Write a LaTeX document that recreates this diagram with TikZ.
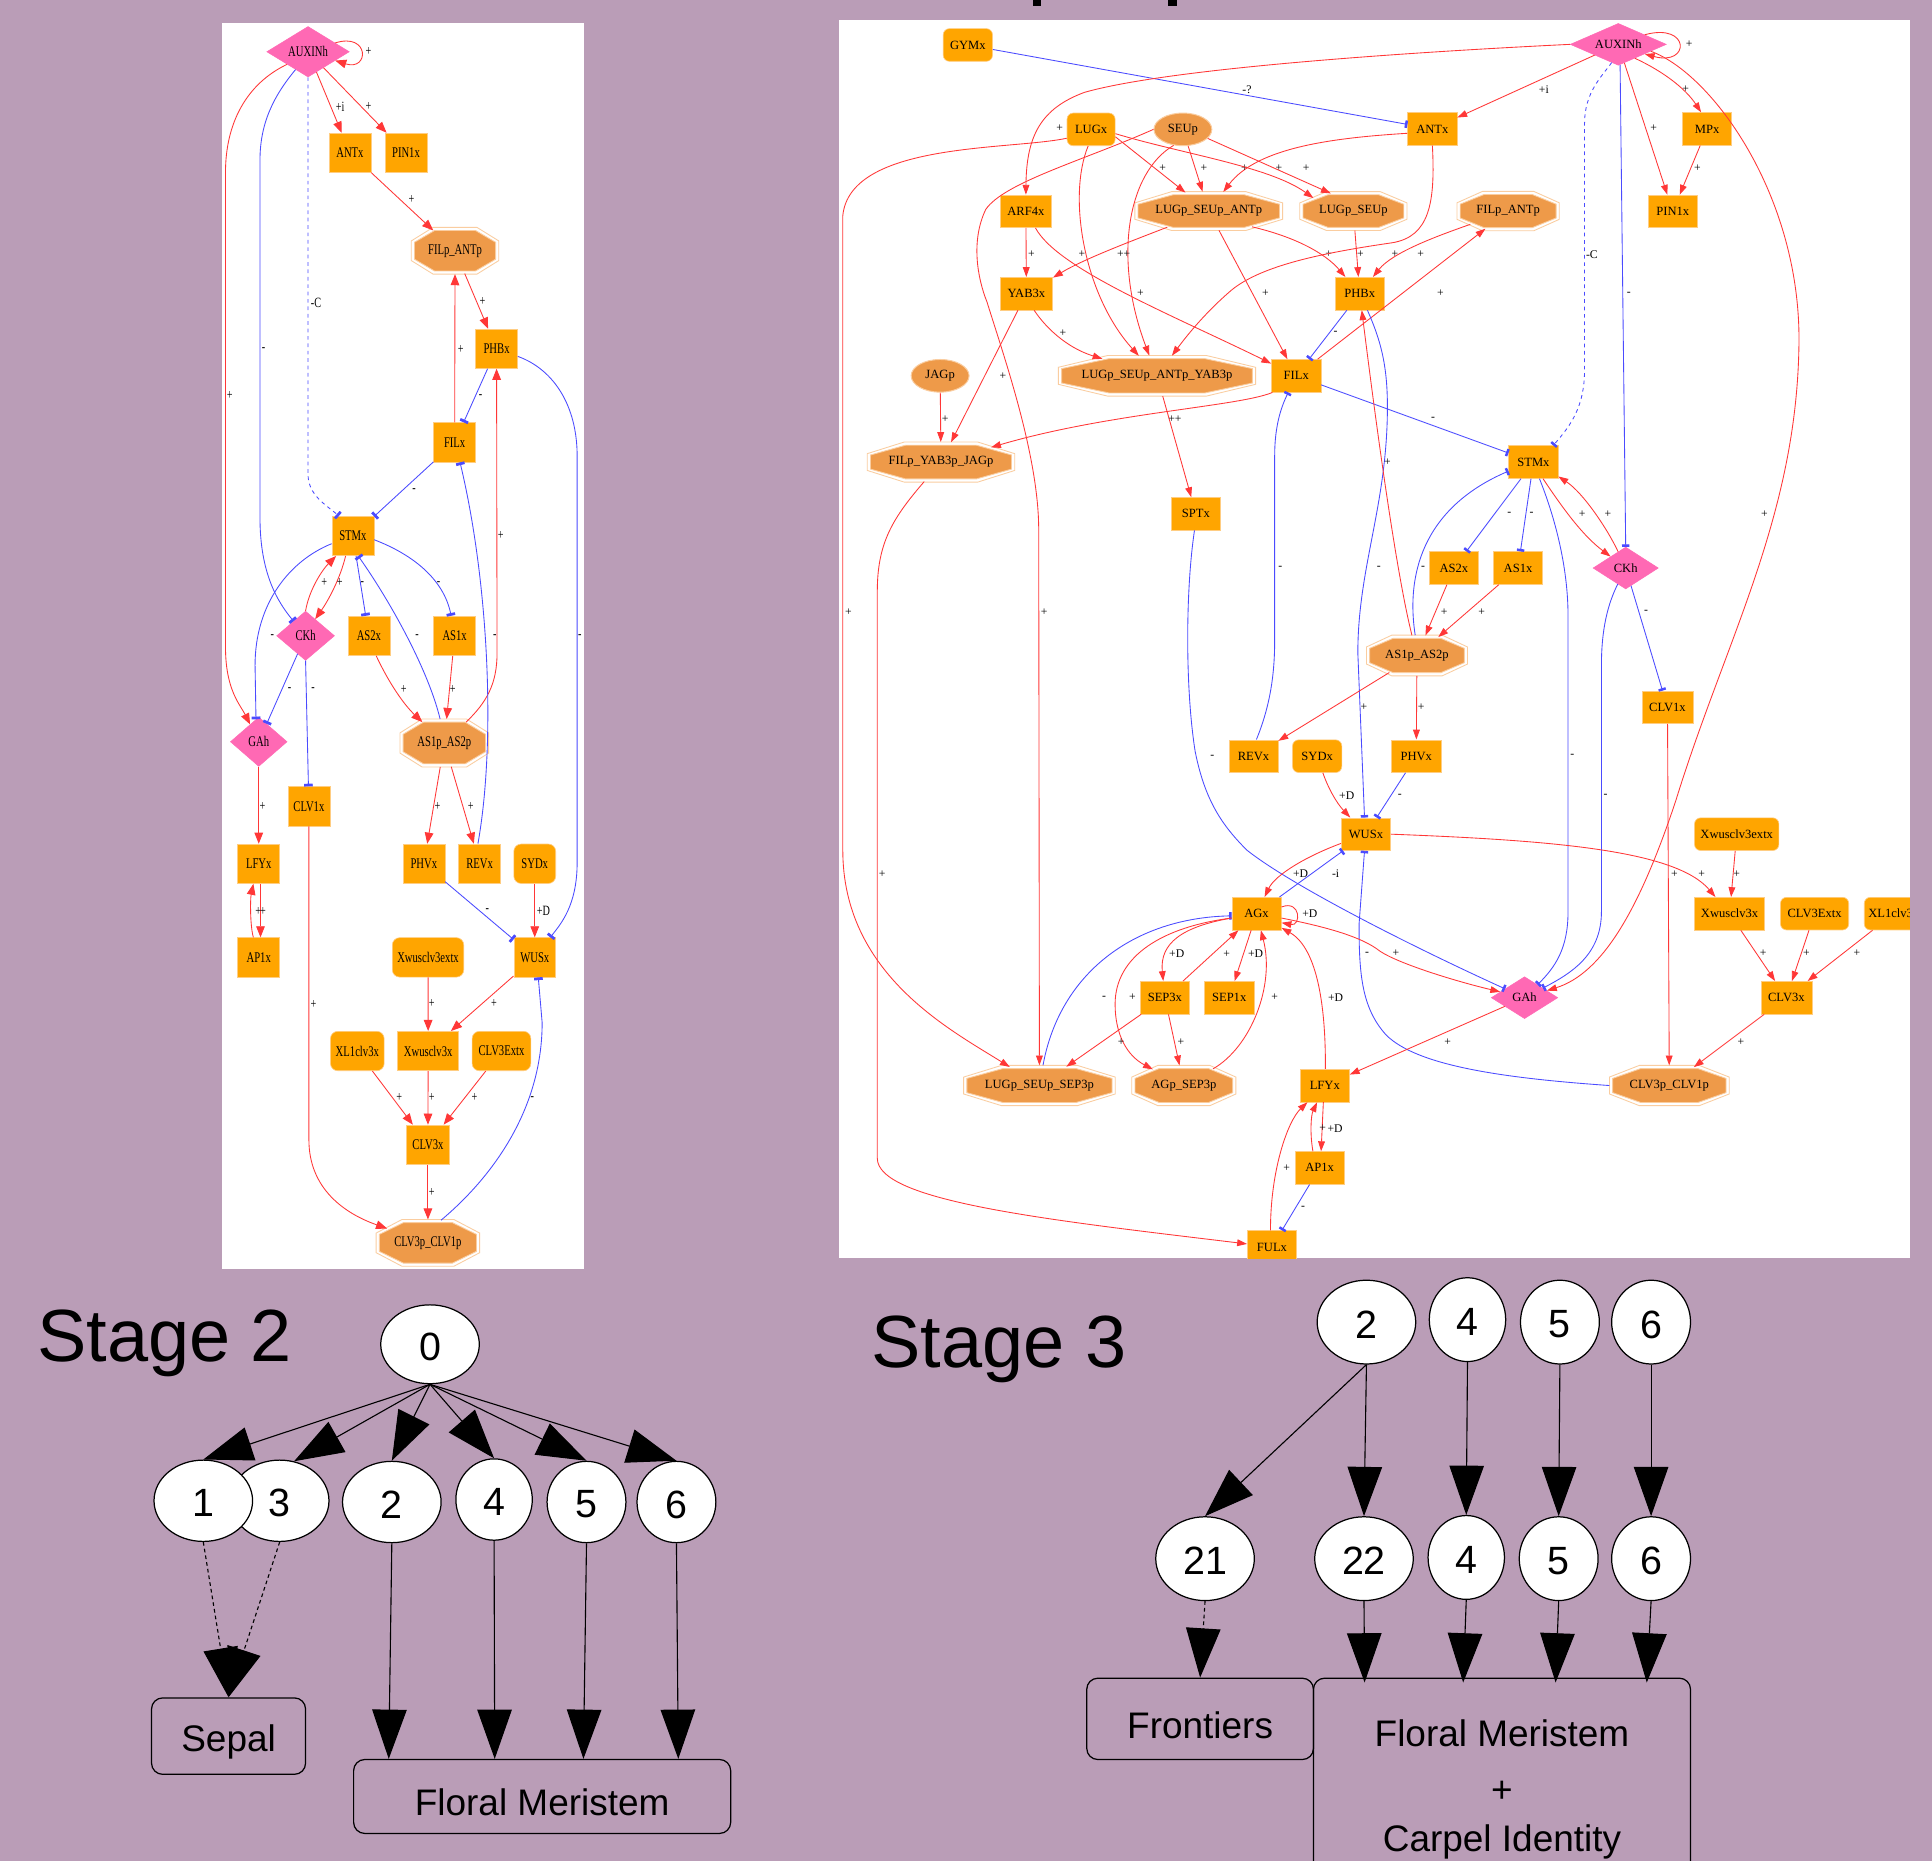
\documentclass[tikz,border=0pt]{standalone}
\usepackage{fontspec}
\usepackage{graphicx}
\setmainfont{Liberation Serif}
\newfontfamily\gv{Liberation Serif}
\newfontfamily\hv{Liberation Sans}
\usetikzlibrary{arrows.meta,shapes.geometric,calc}

\definecolor{bgp}{RGB}{186,157,183}
\definecolor{orF}{RGB}{255,165,0}
\definecolor{orB}{RGB}{255,205,130}
\definecolor{tanF}{RGB}{238,154,73}
\definecolor{tanB}{RGB}{250,205,160}
\definecolor{pinkF}{RGB}{255,105,180}
\definecolor{ered}{RGB}{255,55,55}
\definecolor{eblue}{RGB}{75,75,255}

\newcommand\sq[1]{\scalebox{0.72}[1]{#1}}
\newcommand\lfont{\gv\fontsize{12}{14}\selectfont}
\newcommand\rfont{\gv\fontsize{10.2}{12}\selectfont}
\newcommand\rlfont{\gv\fontsize{9.5}{11}\selectfont}
\newcommand\llfont{\gv\fontsize{11.5}{13}\selectfont}
\newcommand\dn[1]{\raisebox{-5pt}[\height][\depth]{#1}}
\newcommand\dg[1]{\raisebox{-2pt}[\height][\depth]{#1}}

\newcommand\octn[6]{%
  \pgfmathsetmacro\octW{#4/2}%
  \pgfmathsetmacro\octH{#5/2}%
  \pgfmathsetmacro\octX{#4/2-0.25*#4}%
  \pgfmathsetmacro\octY{#5/2-0.29*#5}%
  \pgfmathsetmacro\octWi{\octW-2.6}%
  \pgfmathsetmacro\octHi{\octH-2.6}%
  \pgfmathsetmacro\octXi{\octX-1.1}%
  \pgfmathsetmacro\octYi{\octY-1.1}%
  \begin{scope}[shift={(#2,#3)}]
    \draw[draw=tanB, fill=white, line width=0.7pt] (-\octW,-\octY) -- (-\octX,-\octH) -- (\octX,-\octH) -- (\octW,-\octY) -- (\octW,\octY) -- (\octX,\octH) -- (-\octX,\octH) -- (-\octW,\octY) -- cycle;
    \draw[draw=tanB, fill=tanF, line width=0.7pt] (-\octWi,-\octYi) -- (-\octXi,-\octHi) -- (\octXi,-\octHi) -- (\octWi,-\octYi) -- (\octWi,\octYi) -- (\octXi,\octHi) -- (-\octXi,\octHi) -- (-\octWi,\octYi) -- cycle;
  \end{scope}
  \node[octclip, minimum width=#4pt, minimum height=#5pt] (#1) at (#2,#3) {\makebox[0pt]{#6}};
}

\tikzset{
  octclip/.style={ellipse, inner sep=0pt, outer sep=0pt},
  lbx/.style={rectangle, fill=orF, draw=orB, line width=0.5pt, minimum width=34pt, minimum height=32pt, inner sep=0pt, font=\lfont},
  lrnd/.style={lbx, rounded corners=6pt},
  ldia/.style={diamond, fill=pinkF, draw=pinkF, inner sep=0pt, font=\lfont},
  rbx/.style={rectangle, fill=orF, draw=orB, line width=0.5pt, minimum width=40pt, minimum height=26.5pt, inner sep=0pt, font=\rfont},
  rrnd/.style={rbx, rounded corners=5pt},
  rell/.style={ellipse, fill=tanF, draw=tanB, line width=0.8pt, minimum width=47pt, minimum height=26.5pt, inner sep=0pt, font=\rfont},
  rdia/.style={diamond, fill=pinkF, draw=pinkF, inner sep=0pt, font=\rfont},
  lra/.style={draw=ered, line width=0.7pt, -{Triangle[length=9pt,width=7pt]}},
  lbt/.style={draw=eblue, line width=0.7pt, -{Rectangle[length=2.2pt,width=7pt]}},
  ra/.style={draw=ered, line width=0.7pt, -{Triangle[length=8pt,width=5.5pt]}},
  bt/.style={draw=eblue, line width=0.7pt, -{Rectangle[length=2pt,width=6pt]}},
  lab/.style={font=\rlfont, inner sep=0pt},
  llab/.style={font=\llfont, inner sep=0pt},
  sell/.style={ellipse, draw=black, fill=white, line width=1pt, inner sep=0pt, font=\hv\fontsize{32}{36}\selectfont},
  sbox/.style={rectangle, rounded corners=9pt, draw=black, line width=1pt, inner sep=0pt, font=\hv\fontsize{30}{45}\selectfont},
  bigar/.style={draw=black, line width=0.9pt, -{Triangle[length=40pt,width=28pt]}},
  bigdash/.style={bigar, dash pattern=on 3pt off 2.5pt},
}

\begin{document}
\begin{tikzpicture}[x=1pt, y=-1pt]
\useasboundingbox (0,0) rectangle (1568,1510);
\fill[bgp] (0,0) rectangle (1568,1510);
\fill[black] (838,0) rectangle (845,4.5);
\fill[black] (948,0) rectangle (955,4.5);

% ================= LEFT PANEL =================
\fill[white] (180,18.6) rectangle (474,1030);
\node[ldia, minimum width=67pt, minimum height=41pt, shape aspect=1.63] (LAUX) at (250,42) {\sq{AUXINh}};
\node[lbx] (LANT) at (284,124) {\sq{ANTx}};
\node[lbx] (LPIN) at (329.5,124) {\sq{PIN1x}};
\octn{LFILANT}{369.3}{203.5}{71}{38}{\lfont\sq{FILp\_ANTp}}
\node[lbx] (LPHB) at (403,283) {\sq{PHBx}};
\node[lbx] (LFIL) at (369,359) {\sq{FILx}};
\node[lbx] (LSTM) at (286.4,435) {\sq{STMx}};
\node[ldia, minimum width=47pt, minimum height=40pt, shape aspect=1.17] (LCK) at (248,516) {\sq{CKh}};
\node[lbx] (LAS2) at (299.4,516) {\sq{AS2x}};
\node[lbx] (LAS1) at (369,516) {\sq{AS1x}};
\node[ldia, minimum width=46pt, minimum height=40pt, shape aspect=1.15] (LGA) at (210,602) {\sq{GAh}};
\octn{LAS12}{360.6}{603}{72}{39}{\lfont\sq{AS1p\_AS2p}}
\node[lbx] (LCLV1) at (250.7,654.5) {\sq{CLV1x}};
\node[lbx] (LLFY) at (210,701) {\sq{LFYx}};
\node[lbx] (LAP1) at (210,777) {\sq{AP1x}};
\node[lbx] (LPHV) at (344,701) {\sq{PHVx}};
\node[lbx] (LREV) at (389.3,701) {\sq{REVx}};
\node[lrnd] (LSYD) at (434,701) {\sq{SYDx}};
\node[lbx] (LWUS) at (434,777) {\sq{WUSx}};
\node[lrnd, minimum width=58pt] (LXext) at (347.4,777) {\sq{Xwusclv3extx}};
\node[lbx, minimum width=49.5pt] (LXw) at (347.5,853) {\sq{Xwusclv3x}};
\node[lrnd, minimum width=43.6pt] (LXL1) at (290,853) {\sq{XL1clv3x}};
\node[lrnd, minimum width=47.7pt] (LCLV3E) at (407,853) {\sq{CLV3Extx}};
\node[lbx, minimum width=35.5pt] (LCLV3) at (347.3,929) {\sq{CLV3x}};
\octn{LCLVP}{347.3}{1008.7}{84}{38}{\lfont\sq{CLV3p\_CLV1p}}

\draw[lra] (LAUX.18) .. controls (300,26) and (300,58) .. (LAUX.-18) node[llab] at (299,42) {\sq{+}};
\draw[lra] (LAUX) -- (LANT) node[llab] at (276,86.6) {\sq{+i}};
\draw[lra] (LAUX) -- (LPIN) node[llab] at (299,86.6) {\sq{+}};
\draw[lra] (LAUX.211) .. controls (200,68) and (183,100) .. (183,140) -- (183,525) .. controls (183,560) and (195,572) .. (LGA) node[llab] at (186.5,320.6) {\sq{+}};
\draw[lbt] (LAUX.235) .. controls (222,78) and (211,100) .. (211,130) -- (211,420) .. controls (211,465) and (225,488) .. (LCK) node[llab] at (214,284) {\sq{-}};
\draw[lbt, dashed] (LAUX.south) -- (250,385) .. controls (250,402) and (265,410) .. (LSTM.125) node[llab] at (256.5,245.7) {\sq{-C}};
\draw[lra] (LANT) -- (LFILANT) node[llab] at (334,162.3) {\sq{+}};
\draw[lra] (LFILANT) -- (LPHB) node[llab] at (391.5,244.8) {\sq{+}};
\draw[lra] (LFIL) -- (LFILANT) node[llab] at (374,283.5) {\sq{+}};
\draw[lbt] (LPHB) -- (LFIL) node[llab] at (390,322) {\sq{-}};
\draw[lra] (LAS12) .. controls (395,570) and (403.4,555) .. (403.4,530) -- (LPHB) node[llab] at (406.5,435) {\sq{+}};
\draw[lbt] (LPHB) .. controls (450,300) and (468.4,330) .. (468.4,370) -- (468.4,700) .. controls (468.4,735) and (455,750) .. (LWUS) node[llab] at (470.5,516.7) {\sq{-}};
\draw[lbt] (LFIL) -- (LSTM) node[llab] at (336,398) {\sq{-}};
\draw[lbt] (LSTM.200) .. controls (235,455) and (207,490) .. (207,540) -- (LGA.97) node[llab] at (221,516.7) {\sq{-}};
\draw[lra] (LCK.north) .. controls (251,478) and (262,462) .. (LSTM.-130) node[llab] at (263.2,473) {\sq{+}};
\draw[lra] (LSTM.-110) .. controls (276,470) and (266,488) .. (LCK.60) node[llab] at (275.7,473) {\sq{+}};
\draw[lbt] (LSTM) -- (LAS2) node[llab] at (294,474) {\sq{-}};
\draw[lbt] (LSTM.-10) .. controls (335,450) and (360,470) .. (LAS1.100) node[llab] at (356,474) {\sq{-}};
\draw[lbt] (LAS12.100) .. controls (348,545) and (318,490) .. (LSTM.-75) node[llab] at (338.4,517) {\sq{-}};
\draw[lbt] (LREV.95) .. controls (403,600) and (396,470) .. (LFIL.-75) node[llab] at (401.5,517) {\sq{-}};
\draw[lbt] (LCK) -- (LGA) node[llab] at (235,559.5) {\sq{-}};
\draw[lbt] (LCK.south) -- (LCLV1) node[llab] at (254,559.5) {\sq{-}};
\draw[lra] (LAS2.-70) .. controls (316,555) and (328,572) .. (LAS12) node[llab] at (327.6,559.5) {\sq{+}};
\draw[lra] (LAS1) -- (LAS12) node[llab] at (367.5,559.5) {\sq{+}};
\draw[lra] (LAS12) -- (LPHV) node[llab] at (355,654.7) {\sq{+}};
\draw[lra] (LAS12) -- (LREV) node[llab] at (382,654.7) {\sq{+}};
\draw[lra] (LGA) -- (LLFY) node[llab] at (213,654.7) {\sq{+}};
\draw[lra] (LCLV1) -- (250.7,925) .. controls (250.7,965) and (280,985) .. (LCLVP) node[llab] at (254.5,815) {\sq{+}};
\draw[lra] (LLFY.-85) -- (LAP1.85) node[llab] at (213.5,739.4) {\sq{+}};
\draw[lra] (LAP1.105) .. controls (203,752) and (203,730) .. (LLFY.-105) node[llab] at (209.5,739.4) {\sq{+}};
\draw[lbt] (LPHV) -- (LWUS) node[llab] at (395.5,739.4) {\sq{-}};
\draw[lra] (LSYD) -- (LWUS) node[llab] at (441,739.4) {\sq{+D}};
\draw[lra] (LWUS) -- (LXw) node[llab] at (401,814.8) {\sq{+}};
\draw[lra] (LXext) -- (LXw) node[llab] at (350.5,814.8) {\sq{+}};
\draw[lra] (LXL1) -- (LCLV3) node[llab] at (324,890.9) {\sq{+}};
\draw[lra] (LXw) -- (LCLV3) node[llab] at (350.5,890.9) {\sq{+}};
\draw[lra] (LCLV3E) -- (LCLV3) node[llab] at (385,890.9) {\sq{+}};
\draw[lra] (LCLV3) -- (LCLVP) node[llab] at (350.5,967.7) {\sq{+}};
\draw[lbt] (LCLVP.60) .. controls (400,955) and (440,900) .. (440,830) -- (LWUS.-80) node[llab] at (432,891.4) {\sq{-}};

% ================= RIGHT PANEL =================
\fill[white] (681,16) rectangle (1550,1021);
\begin{scope}
\clip (681,16) rectangle (1550,1021);
\node[rrnd] (RGYM) at (785.5,36.5) {GYMx};
\node[rdia, minimum width=78pt, minimum height=34pt, shape aspect=2.3] (RAUX) at (1313.4,36) {AUXINh};
\node[rrnd, minimum width=39pt] (RLUG) at (885.5,105) {LUGx};
\node[rell] (RSEU) at (960,105) {SEUp};
\node[rbx] (RANT) at (1162.5,104.6) {ANTx};
\node[rbx] (RMP) at (1385.5,104.6) {MPx};
\node[rbx] (RPIN) at (1357.6,171.5) {PIN1x};
\node[rbx, minimum width=41.6pt] (RARF) at (832.6,171.5) {ARF4x};
\octn{RLSA}{981}{171.3}{120}{31.6}{\rfont LUGp\_SEUp\_ANTp}
\octn{RLS}{1098.4}{171.3}{87}{31.6}{\rfont LUGp\_SEUp}
\octn{RFILANT}{1224}{171.3}{83}{32}{\rfont FILp\_ANTp}
\node[rbx, minimum width=42.7pt] (RYAB) at (833,238.3) {YAB3x};
\node[rbx] (RPHB) at (1103.5,238.3) {PHBx};
\node[rell] (RJAG) at (763,305) {JAGp};
\octn{RLSAY}{939}{305}{160}{33}{\rfont LUGp\_SEUp\_ANTp\_YAB3p}
\node[rbx] (RFIL) at (1052,305) {FILx};
\octn{RFYJ}{763.7}{375}{119.6}{32.5}{\rfont FILp\_YAB3p\_JAGp}
\node[rbx] (RSPT) at (970.6,417) {SPTx};
\node[rbx] (RSTM) at (1244.5,375) {STMx};
\node[rbx] (RAS2) at (1180,461) {AS2x};
\node[rbx] (RAS1) at (1232,461) {AS1x};
\node[rdia, minimum width=53pt, minimum height=34pt, shape aspect=1.56] (RCK) at (1319.4,461) {CKh};
\octn{RAS12}{1150}{532}{82}{33}{\rfont AS1p\_AS2p}
\node[rbx] (RPHV) at (1149.4,613.7) {PHVx};
\node[rbx] (RREV) at (1017.3,613.7) {REVx};
\node[rrnd] (RSYD) at (1069,613.7) {SYDx};
\node[rbx, minimum width=41.3pt] (RCLV1) at (1353.3,574) {CLV1x};
\node[rbx] (RWUS) at (1108.6,677) {WUSx};
\node[rrnd, minimum width=68.5pt] (RXext) at (1409.5,677) {Xwusclv3extx};
\node[rbx] (RAG) at (1019.8,741.5) {AGx};
\node[rbx, minimum width=57pt] (RXw) at (1403.7,741.5) {Xwusclv3x};
\node[rrnd, minimum width=55.4pt] (RCLV3E) at (1472.7,741.5) {CLV3Extx};
\node[rrnd, minimum width=48pt] (RXL1) at (1537,741.5) {XL1clv3x};
\node[rbx] (RSEP3) at (945.4,809.7) {SEP3x};
\node[rbx] (RSEP1) at (997.6,809.7) {SEP1x};
\node[rdia, minimum width=54pt, minimum height=34pt, shape aspect=1.59] (RGA) at (1237.3,809.7) {GAh};
\node[rbx, minimum width=41.5pt] (RCLV3) at (1449.8,809.7) {CLV3x};
\octn{RLSS}{843.6}{881}{123}{32.7}{\rfont LUGp\_SEUp\_SEP3p}
\octn{RAGS}{960.8}{881}{84.5}{32.7}{\rfont AGp\_SEP3p}
\node[rbx] (RLFY) at (1075.2,881) {LFYx};
\octn{RCLVP}{1354.8}{881}{97.2}{32.7}{\rfont CLV3p\_CLV1p}
\node[rbx] (RAP1) at (1071,947.8) {AP1x};
\node[rbx] (RFUL) at (1032.3,1012) {FULx};

\draw[bt] (RGYM) -- (RANT) node[lab] at (1012,72.5) {-?};
\draw[ra] (RAUX.west) .. controls (1150,42) and (950,55) .. (880,75) .. controls (845,88) and (833,110) .. (RARF.north) node[lab] at (860,104) {+};
\draw[ra] (RAUX.20) .. controls (1372,18) and (1372,54) .. (RAUX.-20) node[lab] at (1371,36) {+};
\draw[ra] (RAUX) -- (RANT) node[lab] at (1253,72.5) {+i};
\draw[ra] (RAUX.-40) .. controls (1350,58) and (1368,72) .. (RMP.110) node[lab] at (1368,72.5) {+};
\draw[ra] (RAUX) -- (RPIN) node[lab] at (1342,104.4) {+};
\draw[ra] (RMP) -- (RPIN) node[lab] at (1377.5,136.6) {+};
\draw[bt, dashed] (RAUX.-110) .. controls (1300,62) and (1286,75) .. (1286,100) -- (1286,300) .. controls (1286,330) and (1275,345) .. (RSTM.40) node[lab] at (1292,207) {-C};
\draw[bt] (RAUX.-85) -- (RCK.north) node[lab] at (1322,238.6) {-};
\draw[ra] (RAUX.-12) .. controls (1390,60) and (1462,160) .. (1460,280) .. controls (1458,420) and (1400,520) .. (1360,650) .. controls (1330,740) and (1300,790) .. (RGA) node[lab] at (1432,417.2) {+};
\draw[ra] (RLUG.-17) -- (RLSA) node[lab] at (943.7,136.6) {+};
\draw[ra] (RSEU) -- (RLSA) node[lab] at (977,136.6) {+};
\draw[ra] (RANT.190) .. controls (1080,112) and (1020,120) .. (RLSA) node[lab] at (1010,136.6) {+};
\draw[ra] (RLUG.-10) .. controls (960,125) and (1030,135) .. (RLS.162) node[lab] at (1038,136.6) {+};
\draw[ra] (RSEU.-20) -- (RLS.142) node[lab] at (1060,136.6) {+};
\draw[ra] (RLUG.200) .. controls (820,122) and (690,115) .. (684,175) -- (684,690) .. controls (684,790) and (770,835) .. (RLSS) node[lab] at (688.5,497) {+};
\draw[ra] (RSEU.west) .. controls (880,130) and (815,148) .. (800,170) .. controls (788,195) and (793,225) .. (801,245) .. controls (815,290) and (843,370) .. (843,430) -- (RLSS) node[lab] at (847.5,497) {+};
\draw[ra] (RLUG.-100) .. controls (866,160) and (880,240) .. (RLSAY) node[lab] at (878,206) {+};
\draw[ra] (RSEU.-120) .. controls (915,140) and (903,210) .. (RLSAY) node[lab] at (912,206) {++};
\draw[ra] (RLSA) .. controls (920,195) and (880,210) .. (RYAB);
\draw[ra] (RARF) -- (RYAB) node[lab] at (837,206.4) {+};
\draw[ra] (RARF.-60) .. controls (858,218) and (950,255) .. (RFIL) node[lab] at (925.5,238) {+};
\draw[ra] (RLSA) -- (RFIL) node[lab] at (1027,238) {+};
\draw[ra] (RLSA.-20) .. controls (1050,192) and (1075,205) .. (RPHB) node[lab] at (1078.4,206) {+};
\draw[ra] (RLS) -- (RPHB) node[lab] at (1104,206) {+};
\draw[ra] (RFILANT) .. controls (1165,192) and (1130,205) .. (RPHB) node[lab] at (1153,206) {+};
\draw[ra] (RANT.south) .. controls (1165,165) and (1160,192) .. (1130,197) .. controls (1075,205) and (1025,215) .. (1000,235) .. controls (980,252) and (965,270) .. (RLSAY) node[lab] at (1132,206) {+};
\draw[ra] (RFIL) -- (RFILANT) node[lab] at (1169,238) {+};
\draw[ra] (RYAB.-65) .. controls (848,265) and (865,282) .. (RLSAY) node[lab] at (862.6,270.5) {+};
\draw[ra] (RYAB) -- (RFYJ) node[lab] at (814,305) {+};
\draw[ra] (RJAG) -- (RFYJ) node[lab] at (767,340) {+};
\draw[ra] (RFIL.-145) .. controls (1005,330) and (900,335) .. (RFYJ);
\draw[bt] (RPHB) -- (RFIL) node[lab] at (1084,270.5) {-};
\draw[bt] (RPHB.-65) .. controls (1120,275) and (1126,295) .. (1126,330) .. controls (1126,410) and (1102,460) .. (1102,530) -- (RWUS.95) node[lab] at (1119,461) {-};
\draw[bt] (RFIL) -- (RSTM) node[lab] at (1163,340) {-};
\draw[ra] (RLSAY) -- (RSPT) node[lab] at (953.5,340) {++};
\draw[bt] (RREV.80) .. controls (1030,575) and (1034.5,550) .. (1034.5,520) -- (1034.5,370) .. controls (1034.5,345) and (1040,330) .. (RFIL) node[lab] at (1039,461) {-};
\draw[ra] (RAS12) .. controls (1132,460) and (1115,330) .. (RPHB) node[lab] at (1126,375) {+};
\draw[bt] (RAS12.95) .. controls (1140,460) and (1160,410) .. (RSTM.200) node[lab] at (1155,461) {-};
\draw[bt] (RSTM) -- (RAS2) node[lab] at (1225,417.4) {-};
\draw[bt] (RSTM) -- (RAS1) node[lab] at (1243,417.4) {-};
\draw[ra] (RSTM.-60) .. controls (1270,415) and (1285,435) .. (RCK) node[lab] at (1284,417) {+};
\draw[ra] (RCK.115) .. controls (1305,430) and (1285,400) .. (RSTM.-30) node[lab] at (1305,417) {+};
\draw[bt] (RSTM.-70) .. controls (1262,420) and (1272.6,460) .. (1272.6,500) -- (1272.6,740) .. controls (1272.6,770) and (1262,785) .. (RGA) node[lab] at (1276,613.6) {-};
\draw[bt] (RCK) .. controls (1305,490) and (1299.7,510) .. (1299.7,540) -- (1299.7,740) .. controls (1299.7,775) and (1275,790) .. (RGA) node[lab] at (1303,646) {-};
\draw[bt] (RCK) -- (RCLV1) node[lab] at (1336,497) {-};
\draw[ra] (RAS2) -- (RAS12) node[lab] at (1172,497) {+};
\draw[ra] (RAS1) -- (RAS12) node[lab] at (1202.5,497) {+};
\draw[ra] (RAS12) -- (RPHV) node[lab] at (1153.5,573.6) {+};
\draw[ra] (RAS12) -- (RREV) node[lab] at (1107,573.6) {+};
\draw[bt] (RPHV) -- (RWUS) node[lab] at (1136,646) {-};
\draw[ra] (RSYD) .. controls (1078,640) and (1085,652) .. (RWUS) node[lab] at (1093,645.8) {+D};
\draw[bt] (RSPT.-95) .. controls (962,480) and (962,560) .. (970,610) .. controls (978,650) and (992,670) .. (1012,690) .. controls (1050,720) and (1150,770) .. (RGA) node[lab] at (984,614) {-};
\draw[ra] (RWUS.east) .. controls (1260,682) and (1360,690) .. (RXw) node[lab] at (1381,709.4) {+};
\draw[ra] (RXext) -- (RXw) node[lab] at (1409.5,709.4) {+};
\draw[ra] (RCLV1) -- (RCLVP) node[lab] at (1359,709.4) {+};
\draw[ra] (RXw) -- (RCLV3) node[lab] at (1431,773.8) {+};
\draw[ra] (RCLV3E) -- (RCLV3) node[lab] at (1466,773.8) {+};
\draw[ra] (RXL1) -- (RCLV3) node[lab] at (1507,773.8) {+};
\draw[ra] (RCLV3) -- (RCLVP) node[lab] at (1413,846) {+};
\draw[bt] (RCLVP.west) .. controls (1220,875) and (1150,865) .. (1125,840) .. controls (1105,818) and (1103,790) .. (1103,750) -- (RWUS.-95) node[lab] at (1109.5,774) {-};
\draw[ra] (RWUS) .. controls (1060,695) and (1035,710) .. (RAG) node[lab] at (1055.5,709.4) {+D};
\draw[bt] (RAG) -- (RWUS) node[lab] at (1084,709.4) {-i};
\draw[ra] (RAG.15) .. controls (1056,730) and (1056,752) .. (RAG.-20) node[lab] at (1063,741.8) {+D};
\draw[ra] (RAG) .. controls (960,752) and (941,765) .. (RSEP3) node[lab] at (955,774) {+D};
\draw[ra] (RSEP3) -- (RAG) node[lab] at (995.5,774) {+};
\draw[ra] (RAG) -- (RSEP1) node[lab] at (1019,774) {+D};
\draw[ra] (RAGS) .. controls (1015,850) and (1035,800) .. (RAG) node[lab] at (1034.5,809.7) {+};
\draw[ra] (RLFY.88) .. controls (1076,820) and (1070,770) .. (RAG) node[lab] at (1084,809.7) {+D};
\draw[ra] (RAG.-10) .. controls (1075,752) and (1105,760) .. (1120,772) .. controls (1135,782) and (1180,796) .. (RGA) node[lab] at (1133,773.8) {+};
\draw[bt] (RLSS.80) .. controls (860,790) and (920,745) .. (RAG.185) node[lab] at (896,810) {-};
\draw[ra] (RAG.190) .. controls (945,752) and (905,775) .. (905,815) .. controls (905,840) and (915,857) .. (RAGS) node[lab] at (919,809.7) {+};
\draw[ra] (RSEP3) -- (RLSS) node[lab] at (910,846) {+};
\draw[ra] (RSEP3) -- (RAGS) node[lab] at (958.5,846) {+};
\draw[ra] (RGA) -- (RLFY) node[lab] at (1175,846) {+};
\draw[ra] (RLFY.-95) -- (RAP1.85) node[lab] at (1073.5,916) {+};
\draw[ra] (RAP1.112) .. controls (1063,920) and (1064,905) .. (RLFY.-115) node[lab] at (1083.5,916) {+D};
\draw[bt] (RAP1) -- (RFUL) node[lab] at (1057.5,980.5) {-};
\draw[ra] (RFUL.95) .. controls (1031,950) and (1045,910) .. (RLFY) node[lab] at (1044.3,948) {+};
\draw[ra] (RFYJ) .. controls (725,420) and (712,440) .. (712,480) -- (712,940) .. controls (712,975) and (850,990) .. (RFUL) node[lab] at (716,709.4) {+};
\end{scope}

% ================= STAGE 2 =================
\node[font=\hv\fontsize{60}{70}\selectfont, anchor=base west, inner sep=0pt] (st2) at (30,1105) {Stage 2};
\node[sell, minimum width=80pt, minimum height=64pt] (s2n0) at (349,1091) {\dg{0}};
\node[sell, minimum width=80pt, minimum height=66pt] (s2n3) at (227,1218) {\dg{3}};
\node[sell, minimum width=80pt, minimum height=66pt] (s2n1) at (165,1218) {\dg{1}};
\node[sell, minimum width=80pt, minimum height=66pt] (s2n2) at (318,1219) {\dg{2}};
\node[sell, minimum width=62pt, minimum height=66pt] (s2n4) at (401,1217) {\dg{4}};
\node[sell, minimum width=64pt, minimum height=66pt] (s2n5) at (476,1219) {\dg{5}};
\node[sell, minimum width=64pt, minimum height=66pt] (s2n6) at (549,1219) {\dg{6}};
\node[sbox, minimum width=125pt, minimum height=62pt] (sepal) at (185.5,1409) {\dn{Sepal}};
\node[sbox, minimum width=306pt, minimum height=60pt] (fm) at (440,1458) {\dn{Floral Meristem}};
\draw[bigar] (s2n0.south) -- (s2n1.north);
\draw[bigar] (s2n0.south) -- (s2n3.70);
\draw[bigar] (s2n0.south) -- (s2n2.north);
\draw[bigar] (s2n0.south) -- (s2n4.north);
\draw[bigar] (s2n0.south) -- (s2n5.north);
\draw[bigar] (s2n0.south) -- (s2n6.north);
\draw[bigdash] (s2n1.south) -- (sepal.north);
\draw[bigdash] (s2n3.south) -- (sepal.north);
\draw[bigar] (s2n2.south) -- ($(fm.north west)+(29,0)$);
\draw[bigar] (s2n4.south) -- ($(fm.north west)+(115,0)$);
\draw[bigar] (s2n5.south) -- ($(fm.north west)+(187,0)$);
\draw[bigar] (s2n6.south) -- ($(fm.north west)+(264,0)$);

% ================= STAGE 3 =================
\node[font=\hv\fontsize{60}{70}\selectfont, anchor=base west, inner sep=0pt] (st3) at (707,1110) {Stage 3};
\node[sell, minimum width=80pt, minimum height=68pt] (t2) at (1109,1073) {\dg{2}};
\node[sell, minimum width=62pt, minimum height=68pt] (t4) at (1191,1071) {\dg{4}};
\node[sell, minimum width=64pt, minimum height=68pt] (t5) at (1266,1073) {\dg{5}};
\node[sell, minimum width=64pt, minimum height=68pt] (t6) at (1340,1073) {\dg{6}};
\node[sell, minimum width=80pt, minimum height=68pt] (t21) at (978,1265) {\dg{21}};
\node[sell, minimum width=80pt, minimum height=68pt] (t22) at (1107,1265) {\dg{22}};
\node[sell, minimum width=62pt, minimum height=68pt] (b4) at (1190,1264) {\dg{4}};
\node[sell, minimum width=64pt, minimum height=68pt] (b5) at (1265,1265) {\dg{5}};
\node[sell, minimum width=64pt, minimum height=68pt] (b6) at (1340,1265) {\dg{6}};
\node[sbox, minimum width=184pt, minimum height=66pt] (front) at (974,1395) {\dn{Frontiers}};
\node[sbox, minimum width=306pt, minimum height=176pt, align=center] (fmc) at (1219,1450) {\dn{Floral Meristem}\\\dn{+}\\Carpel Identity};
\draw[bigar] (t2.south) -- (t21.north);
\draw[bigar] (t2.south) -- (t22.north);
\draw[bigar] (t4.south) -- (b4.north);
\draw[bigar] (t5.south) -- (b5.north);
\draw[bigar] (t6.south) -- (b6.north);
\draw[bigdash] (t21.south) -- (front.north);
\draw[bigar] (t22.south) -- ($(fmc.north west)+(42,4)$);
\draw[bigar] (b4.south) -- ($(fmc.north west)+(122,4)$);
\draw[bigar] (b5.south) -- ($(fmc.north west)+(197,4)$);
\draw[bigar] (b6.south) -- ($(fmc.north west)+(271,4)$);
\end{tikzpicture}
\end{document}
